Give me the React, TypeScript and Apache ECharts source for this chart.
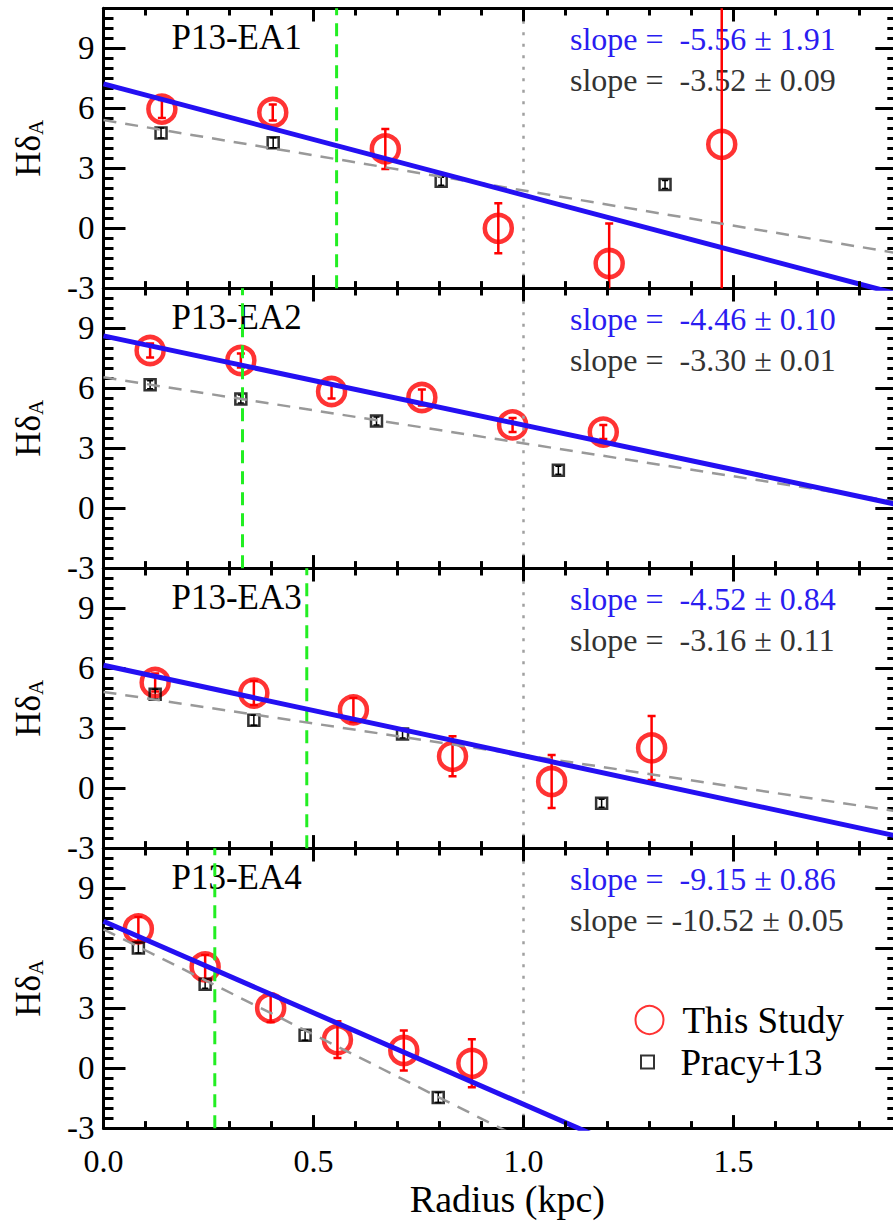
import React, { useEffect, useRef } from 'react';
import * as echarts from 'echarts';

// ---------------- data ----------------
const panelNames = ['P13-EA1', 'P13-EA2', 'P13-EA3', 'P13-EA4'];

// This Study (red circles): radius (kpc), HdA, error
const studyX = [
  [0.139, 0.403, 0.671, 0.94, 1.204, 1.472],
  [0.111, 0.327, 0.543, 0.758, 0.974, 1.19],
  [0.123, 0.358, 0.595, 0.831, 1.067, 1.305],
  [0.083, 0.242, 0.398, 0.557, 0.715, 0.877],
];
const studyY = [
  [5.96, 5.79, 3.97, 0.0, -1.76, 4.2],
  [7.89, 7.39, 5.84, 5.54, 4.17, 3.81],
  [5.29, 4.76, 3.92, 1.6, 0.34, 2.02],
  [6.97, 5.07, 3.02, 1.43, 0.89, 0.25],
];
const studyErr = [
  [0.45, 0.4, 1.0, 1.25, 2.0, 9.0],
  [0.35, 0.35, 0.35, 0.4, 0.35, 0.35],
  [0.45, 0.6, 0.6, 1.0, 1.33, 1.6],
  [0.6, 0.6, 0.7, 0.92, 1.0, 1.2],
];

// Pracy+13 (black squares)
const pracyX = [
  [0.137, 0.404, 0.804, 1.337],
  [0.111, 0.327, 0.65, 1.083],
  [0.123, 0.358, 0.712, 1.186],
  [0.083, 0.242, 0.48, 0.797],
];
const pracyY = [
  [4.76, 4.28, 2.35, 2.19],
  [6.18, 5.46, 4.37, 1.9],
  [4.7, 3.4, 2.72, -0.75],
  [6.02, 4.2, 1.65, -1.46],
];
const pracyErr = [
  [0.25, 0.25, 0.2, 0.2],
  [0.2, 0.2, 0.2, 0.2],
  [0.25, 0.25, 0.2, 0.2],
  [0.25, 0.2, 0.25, 0.25],
];

// linear fits
const blueIntercept = [7.22, 8.62, 6.15, 7.35];
const blueSlope = [-5.56, -4.46, -4.52, -9.15];
const blueSlopeErr = [1.91, 0.1, 0.84, 0.86];
const grayIntercept = [5.41, 6.55, 4.82, 6.95];
const graySlope = [-3.52, -3.3, -3.16, -10.52];
const graySlopeErr = [0.09, 0.01, 0.11, 0.05];

// vertical markers
const greenX = [0.555, 0.331, 0.484, 0.265];
const refX = 1.0;

// ticks and tick labels
const xMajorTicks = [0, 0.5, 1.0, 1.5];
const xMinorTicks = [0.1, 0.2, 0.3, 0.4, 0.6, 0.7, 0.8, 0.9, 1.1, 1.2, 1.3, 1.4, 1.6, 1.7, 1.8];
const xTickLabels = ['0.0', '0.5', '1.0', '1.5'];
const yTickLabels = ['-3', '0', '3', '6', '9'];

// ---------------- layout ----------------
const FONT = 'Liberation Serif';
const XMIN = 0;
const XMAX = 1.89;
const YMIN = -3;
const YMAX = 11;
const GRID_LEFT = 103.5;
const GRID_TOP = 8.3;
const PANEL_H = 280;
const GRID_W = 793.8;
const BLUE = '#2410f2';
const BLUE_TEXT = '#2a1cf0';
const GRAY_TEXT = '#333333';
const RED = '#ff0000';

function fmtSlope(s: number, e: number) {
  const a = s.toFixed(2);
  const pad = a.length < 6 ? '  ' : ' ';
  return 'slope =' + pad + a + ' \u00b1 ' + e.toFixed(2);
}

function isMult(v: number, step: number) {
  const r = v / step;
  return Math.abs(r - Math.round(r)) < 1e-6;
}

export default function App() {
  const ref = useRef<HTMLDivElement>(null);

  useEffect(() => {
    if (!ref.current) return;
    const chart = echarts.init(ref.current, undefined, { renderer: 'svg' });

    const grids: any[] = [];
    const xAxes: any[] = [];
    const yAxes: any[] = [];
    const series: any[] = [];
    const graphics: any[] = [];
    const axisPairs: Array<{ xi: number; yi: number }> = [];

    const tk = (len: number) => ({ show: true, inside: true, length: len, lineStyle: { color: '#000', width: 3 } });
    const ymin = (len: number) => ({ show: true, splitNumber: 6, length: len, lineStyle: { color: '#000', width: 3 } });

    for (let k = 0; k < 4; k++) {
      const top = GRID_TOP + PANEL_H * k;
      grids.push({ left: GRID_LEFT, top, width: GRID_W, height: PANEL_H, outerBoundsMode: 'none' });

      const xi = xAxes.length;
      const xMajor: any = {
        gridIndex: k, type: 'value', min: XMIN, max: XMAX, interval: 0.5, position: 'bottom',
        splitLine: { show: false },
        axisLine: { show: true, onZero: false, lineStyle: { color: '#000', width: 3 } },
        axisTick: tk(13),
        axisLabel: {
          show: k === 3,
          margin: 17,
          fontSize: 32,
          fontFamily: FONT,
          color: '#000',
          formatter: (v: number) => {
            if (!isMult(v, 0.5)) return '';
            return xTickLabels[Math.round(v / 0.5)] ?? '';
          },
        },
      };
      if (k === 3) {
        xMajor.name = 'Radius (kpc)';
        xMajor.nameLocation = 'middle';
        xMajor.nameGap = 52;
        xMajor.nameTextStyle = { fontSize: 38, fontFamily: FONT, color: '#000', padding: [0, 0, 0, 14] };
      }
      xAxes.push(xMajor);
      xAxes.push({
        gridIndex: k, type: 'value', min: XMIN, max: XMAX, interval: 0.1, position: 'bottom',
        splitLine: { show: false },
        axisLine: { show: false, onZero: false },
        axisTick: tk(7),
        axisLabel: { show: false },
      });
      xAxes.push({
        gridIndex: k, type: 'value', min: XMIN, max: XMAX, interval: 0.5, position: 'top',
        splitLine: { show: false },
        axisLine: { show: true, onZero: false, lineStyle: { color: '#000', width: 3 } },
        axisTick: tk(13),
        axisLabel: { show: false },
      });
      xAxes.push({
        gridIndex: k, type: 'value', min: XMIN, max: XMAX, interval: 0.1, position: 'top',
        splitLine: { show: false },
        axisLine: { show: false, onZero: false },
        axisTick: tk(7),
        axisLabel: { show: false },
      });

      const yi = yAxes.length;
      axisPairs.push({ xi, yi });
      yAxes.push({
        gridIndex: k, type: 'value', min: YMIN, max: YMAX, interval: 3, position: 'left',
        splitLine: { show: false },
        axisLine: { show: true, onZero: false, lineStyle: { color: '#000', width: 3 } },
        axisTick: tk(22),
        minorTick: ymin(10),
        axisLabel: {
          show: true,
          margin: 9,
          fontSize: 33,
          fontFamily: FONT,
          color: '#000',
          formatter: (v: number) => {
            if (!isMult(v, 3)) return '';
            return yTickLabels[Math.round((v - YMIN) / 3)] ?? '';
          },
        },
        name: '{h|H\u03b4}{s|A}',
        nameLocation: 'middle',
        nameRotate: 90,
        nameGap: 57,
        nameTextStyle: {
          color: '#000',
          rich: {
            h: { fontSize: 35, fontFamily: FONT, color: '#000', lineHeight: 36 },
            s: { fontSize: 21, fontFamily: FONT, color: '#000', lineHeight: 12, verticalAlign: 'bottom' },
          },
        },
      });
      yAxes.push({
        gridIndex: k, type: 'value', min: YMIN, max: YMAX, interval: 3, position: 'right',
        splitLine: { show: false },
        axisLine: { show: false, onZero: false },
        axisTick: tk(22),
        minorTick: ymin(10),
        axisLabel: { show: false },
      });

      const ax = { xAxisIndex: xi, yAxisIndex: yi };

      // green dashed vertical
      series.push({
        type: 'line', ...ax, silent: true, showSymbol: false, symbol: 'none',
        data: [[greenX[k], YMIN], [greenX[k], YMAX]],
        lineStyle: { color: '#22ee22', width: 3, type: [13, 8] },
      });
      // gray dotted vertical at 1 kpc
      series.push({
        type: 'line', ...ax, silent: true, showSymbol: false, symbol: 'none',
        data: [[refX, YMIN], [refX, YMAX]],
        lineStyle: { color: '#a0a0a0', width: 2.5, type: [3, 8.5] },
      });

      const errRender = (color: string, lw: number, cap: number) => (params: any, api: any) => {
        const x = api.value(0);
        const y = api.value(1);
        const e = api.value(2);
        const p1 = api.coord([x, y + e]);
        const p2 = api.coord([x, y - e]);
        const st = { stroke: color, lineWidth: lw };
        return {
          type: 'group',
          children: [
            { type: 'line', shape: { x1: p1[0], y1: p1[1], x2: p2[0], y2: p2[1] }, style: st },
            { type: 'line', shape: { x1: p1[0] - cap, y1: p1[1], x2: p1[0] + cap, y2: p1[1] }, style: st },
            { type: 'line', shape: { x1: p2[0] - cap, y1: p2[1], x2: p2[0] + cap, y2: p2[1] }, style: st },
          ],
        };
      };

      series.push({
        type: 'custom', ...ax, clip: true, silent: true,
        renderItem: errRender(RED, 2.5, 4),
        encode: { x: 0, y: 1 },
        data: studyX[k].map((x, i) => [x, studyY[k][i], studyErr[k][i]]),
      });
      series.push({
        type: 'custom', ...ax, clip: true, silent: true,
        renderItem: errRender('#000', 1.5, 3),
        encode: { x: 0, y: 1 },
        data: pracyX[k].map((x, i) => [x, pracyY[k][i], pracyErr[k][i]]),
      });
      series.push({
        name: 'This Study',
        type: 'scatter', ...ax,
        symbol: 'circle',
        symbolSize: 27,
        itemStyle: { color: 'rgba(0,0,0,0)', borderColor: RED, borderWidth: 4.5 },
        data: studyX[k].map((x, i) => [x, studyY[k][i]]),
      });
      series.push({
        name: 'Pracy+13',
        type: 'scatter', ...ax,
        symbol: 'rect',
        symbolSize: 11,
        itemStyle: { color: 'rgba(0,0,0,0)', borderColor: '#000', borderWidth: 2.5 },
        data: pracyX[k].map((x, i) => [x, pracyY[k][i]]),
      });
      series.push({
        type: 'line', ...ax, silent: true, showSymbol: false, symbol: 'none',
        data: [[XMIN, grayIntercept[k] + graySlope[k] * XMIN], [XMAX, grayIntercept[k] + graySlope[k] * XMAX]],
        lineStyle: { color: '#999999', width: 2.5, type: [13, 9] },
      });
      series.push({
        type: 'line', ...ax, silent: true, showSymbol: false, symbol: 'none',
        data: [[XMIN, blueIntercept[k] + blueSlope[k] * XMIN], [XMAX, blueIntercept[k] + blueSlope[k] * XMAX]],
        lineStyle: { color: BLUE, width: 5 },
      });

      graphics.push({
        type: 'text', x: 171.5, y: top + 29,
        style: { text: panelNames[k], fill: '#000', fontSize: 35, fontFamily: FONT, align: 'left', verticalAlign: 'middle' },
      });
      graphics.push({
        type: 'text', x: 570, y: top + 31,
        style: { text: fmtSlope(blueSlope[k], blueSlopeErr[k]), fill: BLUE_TEXT, fontSize: 32, fontFamily: FONT, align: 'left', verticalAlign: 'middle' },
      });
      graphics.push({
        type: 'text', x: 570, y: top + 72,
        style: { text: fmtSlope(graySlope[k], graySlopeErr[k]), fill: GRAY_TEXT, fontSize: 32, fontFamily: FONT, align: 'left', verticalAlign: 'middle' },
      });
    }

    chart.setOption({
      animation: false,
      backgroundColor: '#fff',
      grid: grids,
      xAxis: xAxes,
      yAxis: yAxes,
      series,
      graphic: graphics,
      legend: [
        {
          left: 634.5, top: 1001.5, padding: 0, orient: 'vertical',
          itemWidth: 56, itemHeight: 28, selectedMode: false,
          data: [{ name: 'This Study', icon: 'circle' }],
          textStyle: { fontSize: 37, fontFamily: FONT, color: '#000' },
        },
        {
          left: 640, top: 1043.5, padding: 0, orient: 'vertical',
          itemWidth: 56, itemHeight: 13, selectedMode: false, symbolKeepAspect: true,
          data: [{ name: 'Pracy+13', icon: 'path://M0 0H10V10H0Z' }],
          textStyle: { fontSize: 37, fontFamily: FONT, color: '#000' },
        },
      ],
    });

    // x tick marks on the top and bottom frame of every panel, placed through the axis scales
    try {
      const tickLines: any[] = [];
      axisPairs.forEach(({ xi, yi }) => {
        const addTicks = (vals: number[], len: number) => {
          vals.forEach((v) => {
            const pb: any = chart.convertToPixel({ xAxisIndex: xi, yAxisIndex: yi } as any, [v, YMIN]);
            const pt: any = chart.convertToPixel({ xAxisIndex: xi, yAxisIndex: yi } as any, [v, YMAX]);
            if (!Array.isArray(pb) || !Array.isArray(pt)) return;
            if (!isFinite(pb[0]) || !isFinite(pb[1]) || !isFinite(pt[1])) return;
            const st = { stroke: '#000', lineWidth: 3 };
            tickLines.push({ type: 'line', silent: true, z: 100, shape: { x1: pb[0], y1: pb[1], x2: pb[0], y2: pb[1] - len }, style: st });
            tickLines.push({ type: 'line', silent: true, z: 100, shape: { x1: pt[0], y1: pt[1], x2: pt[0], y2: pt[1] + len }, style: st });
          });
        };
        addTicks(xMajorTicks, 13);
        addTicks(xMinorTicks, 7);
      });
      if (tickLines.length) chart.setOption({ graphic: graphics.concat(tickLines) });
    } catch (e) {
      // keep the chart as drawn
    }

    return () => chart.dispose();
  }, []);

  return (
    <div
      ref={ref}
      style={{ position: 'absolute', left: 0, top: 0, width: 893, height: 1222, background: '#fff' }}
    />
  );
}
